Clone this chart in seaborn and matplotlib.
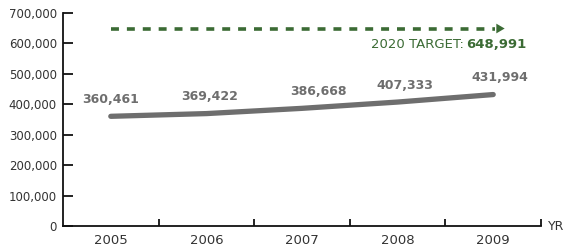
import matplotlib
matplotlib.use("Agg")
import matplotlib.pyplot as plt
import seaborn as sns
import pandas as pd
from matplotlib.ticker import FuncFormatter, FixedLocator

# Data
years = ["2005", "2006", "2007", "2008", "2009"]
values = [360461, 369422, 386668, 407333, 431994]
target_value = 648991
target_label = "2020 TARGET:"

GRAY = "#6e6e6e"
GREEN = "#3b6b34"
TEXT = "#333333"

sns.set_style("white")
plt.rcParams["font.family"] = ["DejaVu Sans"]

df = pd.DataFrame({"pos": range(len(years)), "year": years, "value": values})

fig = plt.figure(figsize=(5.68, 2.52), dpi=100)
ax = fig.add_axes([63 / 568, 26 / 252, 478 / 568, 213 / 252])

sns.lineplot(data=df, x="pos", y="value", ax=ax, color=GRAY, linewidth=3.8,
             solid_capstyle="round")

ax.set_xlim(-0.5, 4.5)
ax.set_ylim(0, 700000)

# target arrow
ax.plot([0, 4.02], [target_value, target_value], color=GREEN, linewidth=2.6,
        linestyle=(0, (2.2, 2.2)))
ax.annotate("", xy=(4.12, target_value), xytext=(4.0, target_value),
            arrowprops=dict(arrowstyle="-|>,head_length=0.6,head_width=0.35",
                            color=GREEN, lw=0, shrinkA=0, shrinkB=0))

# target label: bold number right-aligned, regular text placed before it
ty = 598000
num = ax.text(4.35, ty, f"{target_value:,}", color=GREEN, fontsize=9.5,
              fontweight="bold", ha="right", va="center")
fig.canvas.draw()
bb = num.get_window_extent(renderer=fig.canvas.get_renderer())
x0 = ax.transData.inverted().transform((bb.x0, bb.y0))[0]
ax.text(x0 - 0.03, ty, target_label, color=GREEN, fontsize=9.5,
        ha="right", va="center")

# value labels
offsets = [0.0, 0.03, 0.17, 0.08, 0.07]
for i, v in enumerate(values):
    ax.text(i + offsets[i], v + 55000, f"{v:,}", color=GRAY, fontsize=9,
            fontweight="bold", ha="center", va="center")

ax.set_xticks(range(len(years)))
ax.set_xticklabels(years)
ax.xaxis.set_minor_locator(FixedLocator([0.5, 1.5, 2.5, 3.5, 4.5]))
ax.set_yticks(range(0, 700001, 100000))
ax.yaxis.set_major_formatter(FuncFormatter(lambda y, p: f"{int(y):,}"))
ax.set_xlabel("")
ax.set_ylabel("")

for s in ["top", "right"]:
    ax.spines[s].set_visible(False)
for s in ["left", "bottom"]:
    ax.spines[s].set_color("#111111")
    ax.spines[s].set_linewidth(1.3)

ax.tick_params(axis="y", which="major", direction="in", length=7, width=1.3,
               color="#111111", labelsize=8.5, labelcolor=TEXT, pad=4.5, left=True)
ax.tick_params(axis="x", which="major", length=0, labelsize=9.5, labelcolor=TEXT, pad=6)
ax.tick_params(axis="x", which="minor", direction="in", length=5, width=1.3,
               color="#111111", bottom=True)

fig.text(548 / 568, 1 - 227 / 252, "YR", fontsize=9, color=TEXT, ha="left", va="center")

fig.savefig("out.png", dpi=100)
